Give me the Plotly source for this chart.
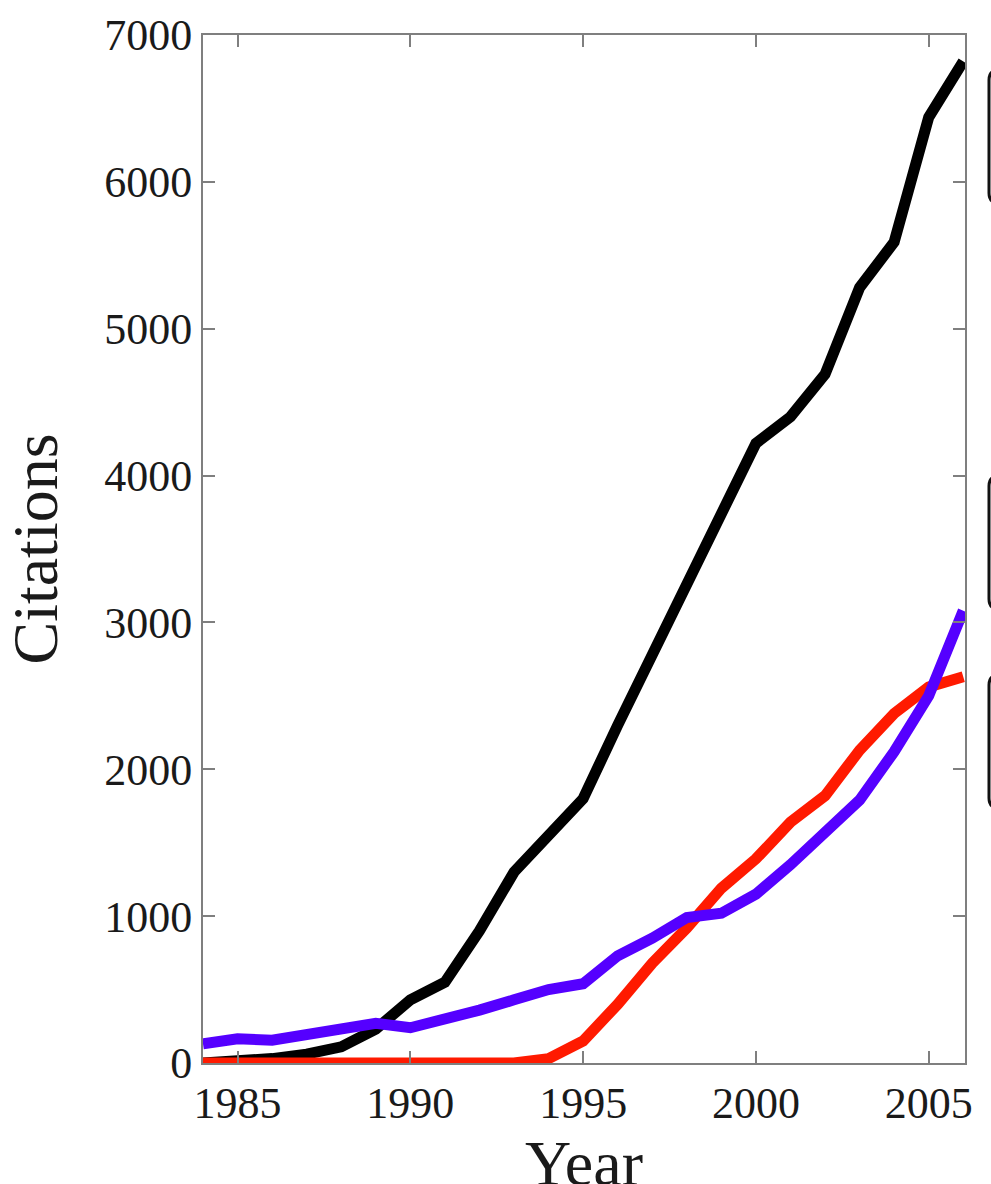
import plotly.graph_objects as go

years = list(range(1984, 2007))
black_vals = [0, 10, 30, 60, 110, 230, 430, 550, 900, 1300, 1560, 1800, 2300, 2780,
              3230, 3730, 4220, 4400, 4690, 5280, 5590, 6440, 6820]
red_vals = [0, 0, 0, 0, 0, 0, 0, 0, 0, 0, 30, 150, 400, 680, 920, 1190, 1390, 1640,
            1820, 2130, 2380, 2560, 2630]
blue_vals = [130, 165, 155, 190, 220, 270, 240, 295, 360, 430, 500, 540, 730, 850,
             990, 1020, 1150, 1350, 1560, 1790, 2120, 2500, 3080]
x_ticks = [1985, 1990, 1995, 2000, 2005]
y_ticks = [0, 1000, 2000, 3000, 4000, 5000, 6000, 7000]

W, H = 991, 1184
L, R, T, B = 203, 26, 35, 121

fig = go.Figure()
fig.add_trace(go.Scatter(x=years, y=black_vals, mode="lines",
                         line=dict(color="#000000", width=11), showlegend=False))
fig.add_trace(go.Scatter(x=years, y=red_vals, mode="lines",
                         line=dict(color="#ff1a00", width=11), showlegend=False))
fig.add_trace(go.Scatter(x=years, y=blue_vals, mode="lines",
                         line=dict(color="#5500ff", width=11), showlegend=False))

font = "Liberation Serif, Times New Roman, serif"
axis_common = dict(showgrid=False, zeroline=False, showline=True, linecolor="#7f7f7f",
                   linewidth=2, mirror="ticks", ticks="inside", ticklen=12,
                   tickwidth=2, tickcolor="#7f7f7f",
                   tickfont=dict(family=font, size=44, color="#1a1a1a"))

plot_w = W - L - R
plot_h = H - T - B
def px_to_paper_x(px):
    return (px - L) / plot_w
def px_to_paper_y(py):
    return (H - B - py) / plot_h

fig.update_layout(
    width=W, height=H,
    margin=dict(l=L, r=R, t=T, b=B, autoexpand=False),
    paper_bgcolor="white", plot_bgcolor="white",
    xaxis=dict(range=[1984, 2006.05], tickvals=x_ticks, **axis_common),
    yaxis=dict(range=[0, 7000], tickvals=y_ticks, **axis_common,
               title=dict(text="Citations", font=dict(family=font, size=64, color="#1a1a1a"),
                          standoff=36)),
)

fig.add_annotation(text="Year", xref="paper", yref="paper",
                   x=0.5, y=px_to_paper_y(1163), xanchor="center", yanchor="middle",
                   showarrow=False, font=dict(family=font, size=64, color="#1a1a1a"))

# partially visible rounded boxes at the right edge
for (top, bot) in [(70, 203), (476, 609), (675, 808)]:
    x0 = px_to_paper_x(989)
    x1 = px_to_paper_x(1100)
    xr = px_to_paper_x(989 + 10)
    yt = px_to_paper_y(top)
    yb = px_to_paper_y(bot)
    dy = 10 / plot_h
    path = (f"M {x1},{yt} L {xr},{yt} Q {x0},{yt} {x0},{yt - dy} "
            f"L {x0},{yb + dy} Q {x0},{yb} {xr},{yb} L {x1},{yb}")
    fig.add_shape(type="path", path=path, xref="paper", yref="paper",
                  line=dict(color="#111111", width=3))

fig.write_html("out.html", config={"displayModeBar": False},
               post_script="document.body.style.margin='0';document.body.style.overflow='hidden';")
